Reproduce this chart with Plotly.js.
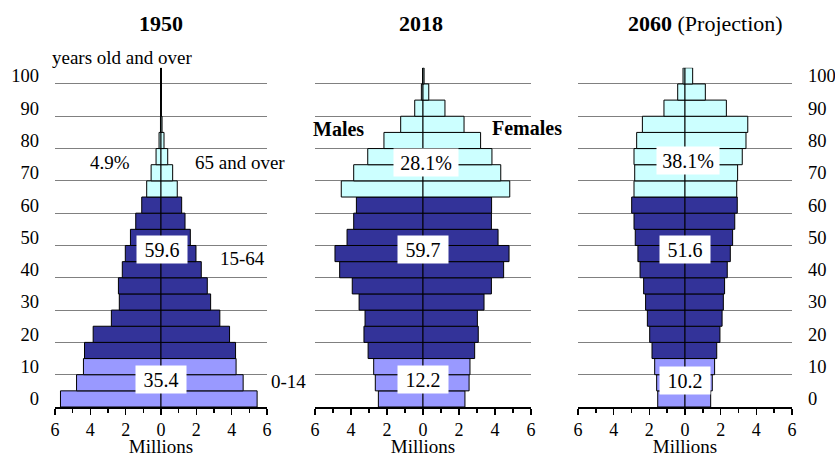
<!DOCTYPE html>
<html>
<head>
<meta charset="utf-8">
<script src="https://cdn.plot.ly/plotly-3.0.1.min.js"></script>
<style>html,body{margin:0;padding:0;background:#fff;}#chart{width:835px;height:457px;}</style>
</head>
<body>
<div id="chart"></div>
<script>
// ---- DATA (millions) ----
const ageStart = [0,5,10,15,20,25,30,35,40,45,50,55,60,65,70,75,80,85,90,95,100];
const ageLabels = ['0-4','5-9','10-14','15-19','20-24','25-29','30-34','35-39','40-44','45-49','50-54','55-59','60-64','65-69','70-74','75-79','80-84','85-89','90-94','95-99','100+'];
const yTickAges = [0,10,20,30,40,50,60,70,80,90,100];
const gridAges = [10,20,30,40,50,60,70,80,90,100];
const xTickVals = [-6,-4,-2,0,2,4,6];
const xTickText = ['6','4','2','0','2','4','6'];

const males1950   = [5.69,4.78,4.39,4.33,3.84,2.81,2.36,2.41,2.19,2.02,1.73,1.43,1.09,0.81,0.56,0.28,0.11,0.03,0.01,0.00,0.00];
const females1950 = [5.44,4.65,4.25,4.22,3.88,3.33,2.81,2.62,2.28,1.98,1.66,1.36,1.17,0.92,0.66,0.38,0.17,0.06,0.01,0.00,0.00];
const males2018   = [2.48,2.65,2.74,3.05,3.28,3.22,3.55,3.93,4.63,4.89,4.22,3.85,3.70,4.54,3.85,3.07,2.17,1.24,0.46,0.09,0.01];
const females2018 = [2.33,2.56,2.61,2.87,3.07,3.02,3.39,3.80,4.48,4.78,4.17,3.80,3.81,4.82,4.32,3.83,3.20,2.28,1.22,0.32,0.06];
const males2060   = [1.53,1.59,1.70,1.85,1.98,2.11,2.21,2.32,2.52,2.64,2.79,2.86,2.99,2.86,2.82,2.86,2.71,2.39,1.18,0.41,0.11];
const females2060 = [1.44,1.53,1.66,1.78,1.96,2.08,2.15,2.22,2.37,2.54,2.67,2.79,2.93,2.90,2.95,3.21,3.42,3.52,2.32,1.14,0.43];

const shares1950 = {young:'35.4', working:'59.6', old:'4.9%'};
const shares2018 = {young:'12.2', working:'59.7', old:'28.1%'};
const shares2060 = {young:'10.2', working:'51.6', old:'38.1%'};

// ---- STYLE ----
const FONT = 'Liberation Serif, Times New Roman, serif';
const C_YOUNG = '#9999FF', C_WORK = '#333399', C_OLD = '#CCFFFF';
const colors = ageStart.map(a => a < 15 ? C_YOUNG : (a < 65 ? C_WORK : C_OLD));
const yCenters = ageStart.map(a => a + 2.5);
const yTickPos = yTickAges.map(a => a + 2.5);

const W = 835, H = 457;
const px = x => x / W, py = y => 1 - y / H;

function pyramid(males, females, xa, ya) {
  const common = {type:'bar', orientation:'h', y:yCenters, xaxis:xa, yaxis:ya,
    marker:{color:colors, line:{color:'#000', width:1}}, hoverinfo:'skip', showlegend:false};
  return [
    Object.assign({}, common, {x: males.map(v => -v), name:'Males'}),
    Object.assign({}, common, {x: females.slice(), name:'Females'})
  ];
}

const data = [].concat(
  pyramid(males1950, females1950, 'x', 'y'),
  pyramid(males2018, females2018, 'x2', 'y2'),
  pyramid(males2060, females2060, 'x3', 'y3')
);

function xaxis(domain, anchor) {
  return {domain:domain, anchor:anchor, range:[-6,6], fixedrange:true,
    tickvals:xTickVals, ticktext:xTickText, ticks:'outside', ticklen:6, tickwidth:1.5, tickcolor:'#000',
    minor:{tickvals:[-5,-3,-1,1,3,5], ticks:'outside', ticklen:4, tickwidth:1.5, tickcolor:'#000'},
    showline:true, linecolor:'#000', linewidth:1.5, showgrid:false,
    zeroline:true, zerolinecolor:'#000', zerolinewidth:2,
    tickfont:{family:FONT, size:18, color:'#000'},
    title:{text:'Millions', font:{family:FONT, size:19, color:'#000'}, standoff:2}};
}
function yaxis(anchor, showLabels, side) {
  return {domain:[py(407), py(67.8)], anchor:anchor, range:[0,105], fixedrange:true,
    tickvals:yTickPos, ticktext:yTickAges.map(String), ticks:'', showticklabels:showLabels,
    side:side, ticklabelstandoff:15,
    showgrid:false, zeroline:false, showline:false,
    minor:{tickvals:gridAges, showgrid:true, gridcolor:'#808080', gridwidth:1, ticks:''},
    tickfont:{family:FONT, size:18.5, color:'#000'}};
}

function box(text, x, y, w) {
  return {xref:'paper', yref:'paper', x:px(x), y:py(y), text:text, showarrow:false,
    xanchor:'center', yanchor:'middle', bgcolor:'#fff', width:w, height:23, borderpad:2,
    font:{family:FONT, size:20, color:'#000'}};
}
function label(text, x, y, anchor, bold) {
  return {xref:'paper', yref:'paper', x:px(x), y:py(y), text:bold ? '<b>'+text+'</b>' : text, showarrow:false,
    xanchor:anchor || 'center', yanchor:'middle',
    font:{family:FONT, size:bold ? 20 : 19, color:'#000'}};
}
function title(text, x) {
  return {xref:'paper', yref:'paper', x:px(x), y:py(23.5), text:text, showarrow:false,
    xanchor:'center', yanchor:'middle', font:{family:FONT, size:22, color:'#000'}};
}

const layout = {
  width:W, height:H, margin:{l:0, r:0, t:0, b:0},
  paper_bgcolor:'#fff', plot_bgcolor:'rgba(0,0,0,0)',
  barmode:'overlay', bargap:0,
  font:{family:FONT, color:'#000'},
  xaxis: xaxis([px(55), px(267)], 'y'),
  xaxis2: xaxis([px(315), px(531)], 'y2'),
  xaxis3: xaxis([px(578), px(792)], 'y3'),
  yaxis: yaxis('x', true, 'left'),
  yaxis2: yaxis('x2', false, 'left'),
  yaxis3: yaxis('x3', true, 'right'),
  annotations:[
    title('<b>1950</b>', 160.5),
    title('<b>2018</b>', 421),
    title('<b>2060</b> (Projection)', 705),
    label('years old and over', 122, 57),
    label(shares1950.old, 110, 163),
    label('65 and over', 193, 163, 'left'),
    label('15-64', 243, 258),
    label('0-14', 288, 381),
    label('Males', 338, 129, 'center', true),
    label('Females', 527, 128, 'center', true),
    box(shares1950.working, 162, 250, 46),
    box(shares1950.young, 161, 379.5, 46),
    box(shares2018.old, 426, 162.5, 60),
    box(shares2018.working, 423, 249, 46),
    box(shares2018.young, 423, 379, 46),
    box(shares2060.old, 688, 160.5, 58),
    box(shares2060.working, 685, 249, 46),
    box(shares2060.young, 685, 380, 46)
  ]
};

Plotly.newPlot('chart', data, layout, {staticPlot:true, displayModeBar:false});
</script>
</body>
</html>
